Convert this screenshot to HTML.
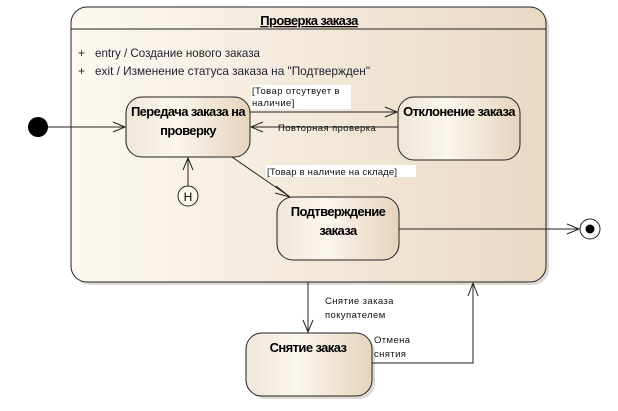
<!DOCTYPE html>
<html><head><meta charset="utf-8"><style>
body{margin:0;background:#fff;width:618px;height:406px;overflow:hidden}
svg text{font-family:"Liberation Sans",sans-serif}
.b{font-size:13px;font-weight:bold;letter-spacing:-0.6px}
</style></head><body>
<svg width="618" height="406" xmlns="http://www.w3.org/2000/svg">
<defs>
<linearGradient id="g" x1="0" x2="1" y1="0" y2="0"><stop offset="0" stop-color="#fdf9f2"/><stop offset="1" stop-color="#e9d9c3"/></linearGradient>
<linearGradient id="g2" x1="0" x2="1" y1="0" y2="0"><stop offset="0" stop-color="#efe6d8"/><stop offset="0.4" stop-color="#fbf6ee"/><stop offset="1" stop-color="#e6d4bc"/></linearGradient>
</defs>
<g fill="#c8c0b4" opacity="0.6">
<rect x="74" y="10" width="475" height="275" rx="16"/>
<rect x="129" y="100" width="124" height="60" rx="16"/>
<rect x="401" y="100" width="122" height="63" rx="16"/>
<rect x="280" y="200" width="122" height="63" rx="16"/>
<rect x="249" y="336" width="126" height="63" rx="16"/>
</g>
<rect x="71" y="7" width="475" height="275" rx="16" fill="url(#g)" stroke="#222" stroke-width="1"/>
<line x1="71" y1="29" x2="546" y2="29" stroke="#222"/>
<text x="309" y="25" class="b" text-anchor="middle" text-decoration="underline">Проверка заказа</text>
<text x="78" y="57" font-size="12" fill="#223">+</text>
<text x="95" y="57" font-size="12" fill="#223" textLength="165" lengthAdjust="spacingAndGlyphs">entry / Создание нового заказа</text>
<text x="78" y="75" font-size="12" fill="#223">+</text>
<text x="95" y="75" font-size="12" fill="#223" textLength="275" lengthAdjust="spacingAndGlyphs">exit / Изменение статуса заказа на "Подтвержден"</text>

<rect x="126" y="97" width="124" height="60" rx="16" fill="url(#g2)" stroke="#222"/>
<text x="188" y="116" class="b" text-anchor="middle">Передача заказа на</text>
<text x="188" y="135" class="b" text-anchor="middle">проверку</text>

<rect x="398" y="97" width="122" height="63" rx="16" fill="url(#g2)" stroke="#222"/>
<text x="459" y="116" class="b" text-anchor="middle">Отклонение заказа</text>

<rect x="277" y="197" width="122" height="63" rx="16" fill="url(#g2)" stroke="#222"/>
<text x="338" y="216" class="b" text-anchor="middle">Подтверждение</text>
<text x="338" y="235" class="b" text-anchor="middle">заказа</text>

<rect x="246" y="333" width="126" height="63" rx="16" fill="url(#g2)" stroke="#222"/>
<text x="308" y="352" class="b" text-anchor="middle">Снятие заказ</text>

<circle cx="38" cy="127" r="10" fill="#000"/>
<circle cx="590" cy="229" r="10" fill="#fff" stroke="#222"/>
<circle cx="590" cy="229" r="4.5" fill="#000"/>
<circle cx="188" cy="196" r="10" fill="#fbf6ee" stroke="#222"/>
<text x="188" y="201" font-size="12" text-anchor="middle">H</text>

<g stroke="#222" fill="none" stroke-width="1">
<path d="M48 127H125M113 122l12 5-12 5"/>
<path d="M250 112H397M385 107l12 5-12 5"/>
<path d="M398 127H251M263 122l-12 5 12 5"/>
<path d="M232 157L290 197M276 186l14 11-15-4"/>
<path d="M188 186V158M183 170l5-12 5 12"/>
<path d="M399 229H579M567 224l12 5-12 5"/>
<path d="M308 282V332M303 320l5 12 5-12"/>
<path d="M372 363H473V283M468 296l5-13 5 13"/>
</g>
<g font-size="9.5" fill="#111" letter-spacing="0.4">
<rect x="251" y="85" width="100" height="24" fill="#fff"/>
<text x="252" y="94">[Товар отсутвует в</text>
<text x="252" y="106">наличие]</text>
<text x="278" y="131">Повторная проверка</text>
<rect x="266" y="165" width="150" height="12" fill="#fff"/>
<text x="267" y="175" letter-spacing="0.2">[Товар в наличие на складе]</text>
<text x="325" y="304">Снятие заказа</text>
<text x="325" y="318">покупателем</text>
<text x="374" y="343">Отмена</text>
<text x="374" y="357">снятия</text>
</g>
</svg>
</body></html>
